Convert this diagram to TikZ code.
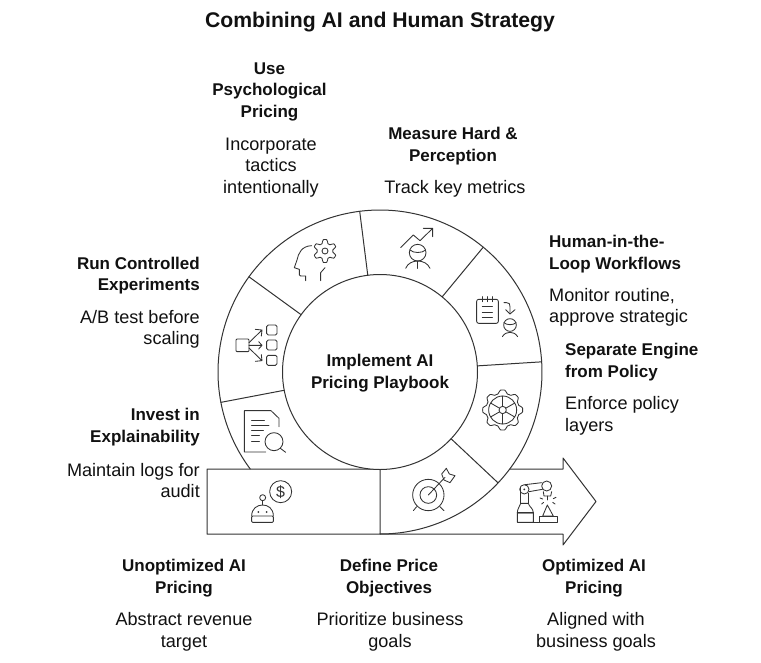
\documentclass[tikz,border=0pt]{standalone}
\usepackage{fontspec}
\setmainfont{Liberation Sans}
\definecolor{ink}{HTML}{333333}
\definecolor{txt}{HTML}{111111}
\tikzset{
  line/.style={draw=ink,line width=1pt,line join=round,line cap=round},
  icon/.style={draw=ink,line width=0.85pt,line join=round,line cap=round},
  head/.style={inner sep=0pt,align=center,text=txt,font=\bfseries\fontsize{17}{21.5}\selectfont},
  body/.style={inner sep=0pt,align=center,text=txt,font=\fontsize{18.1}{21.5}\selectfont},
  headr/.style={head,align=right,anchor=east},
  bodyr/.style={body,align=right,anchor=east},
  headl/.style={head,align=left,anchor=west},
  bodyl/.style={body,align=left,anchor=west},
  zoom/.style 2 args={shift={(#1,#2)},scale=1/3},
}
\newcommand{\gearwave}[6]{% cx cy r amp n phase
  \draw[icon] plot[domain=0:360,samples=192,smooth cycle] ({#1+(#3+#4*max(-1,min(1,1.5*cos(#5*\x+#6))))*cos(\x)},{#2+(#3+#4*max(-1,min(1,1.5*cos(#5*\x+#6))))*sin(\x)});}
\begin{document}
\begin{tikzpicture}[x=1pt,y=-1pt]
\useasboundingbox[fill=white] (0,0) rectangle (761,662);
% arrow band
\draw[line] (510,469) -- (563,469) -- (563,458) -- (596,501.5) -- (563,545) -- (563,534) -- (380,534) -- (207,534) -- (207,469) -- (380,469) -- (380,534);
% ring
\draw[line,fill=white] (380,372) circle[radius=97.5];
\draw[line] plot[domain=-90:216.8,samples=220] ({380+162*cos(\x)},{372-162*sin(\x)});
\foreach \a in {190.8,144,97.2,50.4,3.6,-43.2}
  \draw[line] ({380+97.5*cos(\a)},{372-97.5*sin(\a)}) -- ({380+162*cos(\a)},{372-162*sin(\a)});
% head + gear
\begin{scope}[zoom={200}{200}]
\draw[icon] (335,137) .. controls (305,138) and (295,160) .. (291,180) -- (283,203) -- (298,208) -- (298,225) .. controls (298,228) and (300,228) .. (317,228) -- (317,242);
\draw[icon] (362,242) -- (362,218) -- (375,203);
\gearwave{375}{153}{29}{5.5}{6}{180}
\draw[icon] (375,153) circle[radius=9];
% flow
\draw[icon,rounded corners=1pt] (108,417) rectangle (147,455);
\draw[icon] (147,428) -- (186,390) (166,388) -- (186,390) -- (184,408);
\draw[icon] (147,436) -- (186,436) (176,425) -- (186,436) -- (176,447);
\draw[icon] (147,444) -- (186,482) (184,464) -- (186,482) -- (166,484);
\foreach \y in {375,420,466}
  \draw[icon,rounded corners=1.5pt] (200,\y) rectangle (231,\y+30);
\end{scope}
% chart person, notepad
\begin{scope}[zoom={360}{200}]
\draw[icon] (122,143) -- (160,105) -- (180,122) -- (218,85) (190,85) -- (218,85) -- (218,110);
\draw[icon] (173,158) circle[radius=25];
\draw[icon] (150,150) .. controls (160,160) and (186,160) .. (197,150);
\draw[icon] (137,205) .. controls (143,190) and (158,183) .. (173,183) .. controls (188,183) and (204,190) .. (210,205);
\draw[icon] (173,183) -- (173,205);
\draw[icon,rounded corners=2pt] (350,298) rectangle (415,370);
\foreach \x in {367,382,398} \draw[icon] (\x,290) -- (\x,305);
\foreach \y in {320,337,353} \draw[icon] (367,\y) -- (397,\y);
\draw[icon] (432,308) -- (440,308) .. controls (448,308) and (450,312) .. (450,320) -- (450,341);
\draw[icon] (437,329) -- (450,342) -- (465,329);
\draw[icon] (450,375) circle[radius=19];
\draw[icon] (432,368) .. controls (440,376) and (460,376) .. (468,368);
\draw[icon] (427,410) .. controls (433,400) and (442,397) .. (450,397) .. controls (458,397) and (467,400) .. (473,410);
\end{scope}
% document, robot
\begin{scope}[zoom={200}{390}]
\draw[icon] (197,186) -- (133,186) -- (133,62) -- (213,62) -- (237,85) -- (237,110);
\draw[icon] (155,90) -- (193,90) (155,105) -- (207,105) (155,122) -- (190,122) (155,137) -- (178,137) (155,154) -- (178,154);
\draw[icon] (222,155) circle[radius=27];
\draw[icon] (241,175) -- (257,187);
\draw[icon] (242,305) circle[radius=33];
\node[text=ink,inner sep=0pt,font=\fontsize{16}{16}\selectfont] (dollar) at (242,305) {\$};
\draw[icon] (188,323) circle[radius=9];
\draw[icon] (188,332) -- (188,345);
\draw[icon] (155,378) .. controls (155,355) and (172,345) .. (188,345) .. controls (204,345) and (220,355) .. (220,378);
\draw[icon,rounded corners=1pt] (155,378) -- (155,397) -- (220,397) -- (220,378) -- cycle;
\fill[ink] (175,366) circle[radius=3] (200,366) circle[radius=3];
\end{scope}
% wheel, target, robot arm
\begin{scope}[zoom={400}{390}]
\gearwave{308}{60}{55}{5}{8}{0}
\draw[icon] (308,60) circle[radius=42];
\draw[icon] (308,60) circle[radius=11];
\foreach \a in {30,90,150,210,270,330}
  \draw[icon] ({308+11*cos(\a)},{60+11*sin(\a)}) -- ({308+42*cos(\a)},{60+42*sin(\a)});
\draw[icon] (85,315) circle[radius=47];
\draw[icon] (85,315) circle[radius=25];
\draw[icon] (85,315) -- (135,262);
\draw[icon] (125,252) -- (139,235) -- (148,252) -- (165,257) -- (150,278) -- (132,270) -- cycle;
\draw[icon] (50,350) -- (40,362) (120,350) -- (132,362);
\fill[ink!55] (352,368) rectangle (400,372);
\draw[icon] (352,397) -- (352,368) .. controls (352,355) and (360,350) .. (362,340) -- (385,340) .. controls (387,350) and (400,355) .. (400,368) -- (400,397) -- cycle;
\draw[icon] (352,368) -- (400,368);
\draw[icon] (360,340) -- (360,295) (385,340) -- (385,310);
\draw[icon] (373,298) circle[radius=14];
\fill[ink] (373,298) circle[radius=3];
\draw[icon] (375,284) -- (425,278) (387,305) -- (427,298);
\draw[icon] (440,288) circle[radius=15];
\draw[icon] (430,305) -- (432,318) -- (452,318) -- (455,305);
\draw[icon] (442,318) -- (442,330);
\draw[icon] (428,378) -- (442,345) -- (460,378) -- cycle;
\draw[icon] (418,380) rectangle (473,397);
\draw[icon] (400,397) -- (418,397);
\draw[icon] (420,324) -- (428,327) (468,322) -- (460,326) (425,342) -- (431,337) (465,342) -- (458,337);
\end{scope}
% text
\node[inner sep=0pt,text=txt,font=\bfseries\fontsize{21.2}{26}\selectfont] (title) at (380,22) {Combining AI and Human Strategy};
\node[head] (h1) at (269.5,91.5) {Use\\Psychological\\Pricing};
\node[body] (b1) at (271,167.5) {Incorporate\\tactics\\intentionally};
\node[head] (h2) at (453,146) {Measure Hard \&\\Perception};
\node[body] (b2) at (455,189) {Track key metrics};
\node[headl] (h3) at (549,254) {Human-in-the-\\Loop Workflows};
\node[bodyl] (b3) at (549,307.5) {Monitor routine,\\approve strategic};
\node[headl] (h4) at (565,362) {Separate Engine\\from Policy};
\node[bodyl] (b4) at (565,416) {Enforce policy\\layers};
\node[headr] (h5) at (200,275.5) {Run Controlled\\Experiments};
\node[bodyr] (b5) at (200,329.5) {A/B test before\\scaling};
\node[headr] (h6) at (200,427) {Invest in\\Explainability};
\node[bodyr] (b6) at (200,480.5) {Maintain logs for\\audit};
\node[head] (h7) at (184,578) {Unoptimized AI\\Pricing};
\node[body] (b7) at (184,632) {Abstract revenue\\target};
\node[head] (h8) at (389,578) {Define Price\\Objectives};
\node[body] (b8) at (390,632) {Prioritize business\\goals};
\node[head] (h9) at (594,578) {Optimized AI\\Pricing};
\node[body] (b9) at (596,632) {Aligned with\\business goals};
\node[head] (center) at (380,373) {Implement AI\\Pricing Playbook};
\end{tikzpicture}
\end{document}
